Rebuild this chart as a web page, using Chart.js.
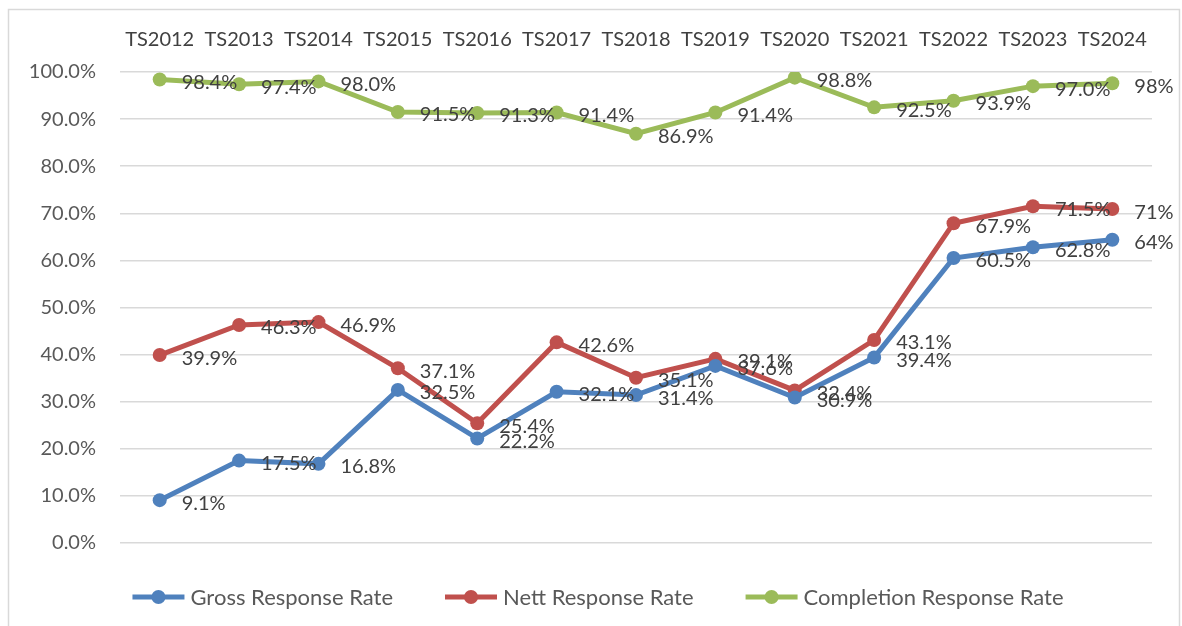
<!DOCTYPE html>
<html>
<head>
<meta charset="utf-8">
<script src="https://cdn.jsdelivr.net/npm/chart.js@4"></script>
<style>
html,body{margin:0;padding:0;background:#fff;overflow:hidden;}
#c{display:block;}
</style>
</head>
<body>
<canvas id="c" width="1182" height="626"></canvas>
<script>
const categories = ["TS2012","TS2013","TS2014","TS2015","TS2016","TS2017","TS2018","TS2019","TS2020","TS2021","TS2022","TS2023","TS2024"];
const grossRate = [9.1, 17.5, 16.8, 32.5, 22.2, 32.1, 31.4, 37.6, 30.9, 39.4, 60.5, 62.8, 64.4];
const nettRate = [39.9, 46.3, 46.9, 37.1, 25.4, 42.6, 35.1, 39.1, 32.4, 43.1, 67.9, 71.5, 70.9];
const completionRate = [98.4, 97.4, 98.0, 91.5, 91.3, 91.4, 86.9, 91.4, 98.8, 92.5, 93.9, 97.0, 97.6];
const seriesNames = ["Gross Response Rate", "Nett Response Rate", "Completion Response Rate"];
const yTicks = [0, 10, 20, 30, 40, 50, 60, 70, 80, 90, 100];

const FONT = "Lato";
const FS = 20;
const LFS = 22;
const colors = ["#4F81BD", "#C0504D", "#9BBB59"];

const frame = {
  id: "frame",
  beforeDraw(chart) {
    const ctx = chart.ctx;
    ctx.save();
    ctx.fillStyle = "#fff";
    ctx.fillRect(0, 0, chart.width, chart.height);
    ctx.strokeStyle = "#d9d9d9";
    ctx.lineWidth = 1.5;
    ctx.strokeRect(8.5, 9.5, 1171, 700);
    ctx.restore();
  }
};

const labelsPlugin = {
  id: "valueLabels",
  afterDatasetsDraw(chart) {
    const ctx = chart.ctx;
    ctx.save();
    ctx.font = FS + "px " + FONT;
    ctx.fillStyle = "#404040";
    ctx.textAlign = "left";
    ctx.textBaseline = "middle";
    chart.data.datasets.forEach((ds, di) => {
      const meta = chart.getDatasetMeta(di);
      meta.data.forEach((pt, i) => {
        const v = ds.data[i];
        const last = i === ds.data.length - 1;
        const txt = (last ? v.toFixed(0) : v.toFixed(1)) + "%";
        ctx.fillText(txt, pt.x + 22, pt.y + 3);
      });
    });
    ctx.restore();
  }
};

const legendPlugin = {
  id: "customLegend",
  afterDraw(chart) {
    const ctx = chart.ctx;
    ctx.save();
    ctx.font = LFS + "px " + FONT;
    const lineW = 52, textGap = 6, itemGap = 52;
    const items = chart.data.datasets.map(ds => ({
      label: ds.label, color: ds.borderColor, w: lineW + textGap + ctx.measureText(ds.label).width
    }));
    const total = items.reduce((s, it) => s + it.w, 0) + itemGap * (items.length - 1);
    let x = 598 - total / 2;
    const y = 597;
    items.forEach(it => {
      ctx.strokeStyle = it.color;
      ctx.lineWidth = 5;
      ctx.beginPath();
      ctx.moveTo(x, y);
      ctx.lineTo(x + lineW, y);
      ctx.stroke();
      ctx.fillStyle = it.color;
      ctx.beginPath();
      ctx.arc(x + lineW / 2, y, 7, 0, Math.PI * 2);
      ctx.fill();
      ctx.fillStyle = "#595959";
      ctx.textAlign = "left";
      ctx.textBaseline = "middle";
      ctx.fillText(it.label, x + lineW + textGap, y + 1);
      x += it.w + itemGap;
    });
    ctx.restore();
  }
};

const mk = (i, data) => ({
  label: seriesNames[i],
  data: data,
  borderColor: colors[i],
  backgroundColor: colors[i],
  borderWidth: 5,
  pointRadius: 7,
  pointHoverRadius: 7,
  pointBorderWidth: 0,
  tension: 0
});

new Chart(document.getElementById("c"), {
  type: "line",
  data: {
    labels: categories,
    datasets: [mk(0, grossRate), mk(1, nettRate), mk(2, completionRate)]
  },
  options: {
    responsive: false,
    animation: false,
    events: [],
    layout: { padding: { left: 0, right: 30, top: 0, bottom: 83 } },
    plugins: { legend: { display: false }, tooltip: { enabled: false } },
    scales: {
      x: {
        position: "top",
        offset: true,
        grid: { display: false, drawTicks: false },
        border: { display: false },
        ticks: { color: "#404040", font: { family: FONT, size: FS }, padding: 20, maxRotation: 0, autoSkip: false },
        afterFit(s) { s.height = 72; }
      },
      y: {
        min: 0, max: 100,
        afterBuildTicks(s) { s.ticks = yTicks.map(v => ({ value: v })); },
        grid: { color: "#d9d9d9", lineWidth: 1.5, drawTicks: false },
        border: { display: false },
        ticks: {
          color: "#595959", font: { family: FONT, size: FS }, padding: 24,
          callback: v => v.toFixed(1) + "%"
        },
        afterFit(s) { s.width = 120; }
      }
    }
  },
  plugins: [frame, labelsPlugin, legendPlugin]
});
</script>
</body>
</html>
